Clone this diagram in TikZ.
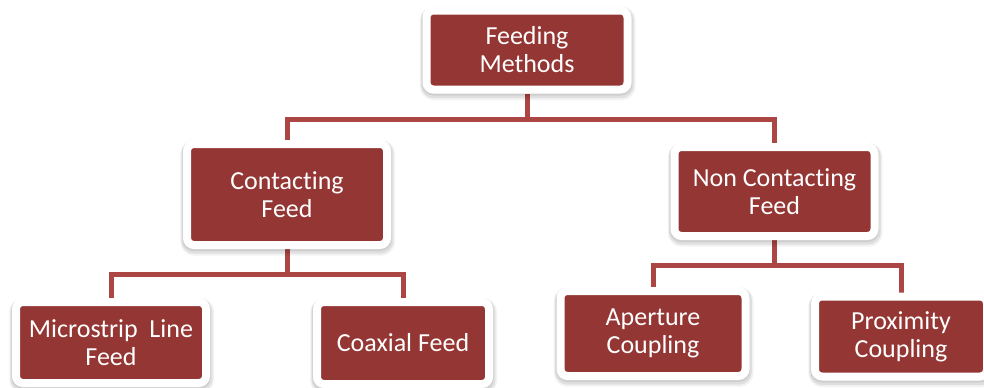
\documentclass[tikz,border=0pt]{standalone}
\usepackage{fontspec}
\setmainfont{Carlito}[Ligatures=NoCommon]
\usetikzlibrary{shadows,backgrounds}
\definecolor{boxred}{RGB}{148,54,52}
\definecolor{linkred}{RGB}{172,70,68}
\begin{document}
\begin{tikzpicture}[x=0.75pt,y=-0.75pt,
  box/.style={rectangle,rounded corners=5.25pt,fill=boxred,draw=white,line width=6pt,
    text=white,align=center,font=\fontsize{19.5}{21}\selectfont,
    drop shadow={shadow xshift=0.5pt,shadow yshift=-2.5pt,draw=black,line width=11pt,opacity=0.05},
    drop shadow={shadow xshift=0.3pt,shadow yshift=-2pt,draw=black,line width=9pt,opacity=0.08},
    drop shadow={shadow xshift=0pt,shadow yshift=-1pt,draw=black,line width=7pt,opacity=0.08}},
  link/.style={draw=linkred,line width=3.75pt}]
\useasboundingbox (0,0) rectangle (984,387);
\node[box,minimum width=150.75pt,minimum height=59.25pt] (feeding) at (527,50) {Feeding\\Methods};
\node[box,minimum width=150pt,minimum height=75.75pt] (contact) at (287,194.5) {Contacting\\Feed};
\node[box,minimum width=150pt,minimum height=66.75pt] (noncontact) at (774.5,191.5) {Non Contacting\\Feed};
\node[box,minimum width=142.5pt,minimum height=60.75pt] (microstrip) at (111,342.5) {Microstrip\ \ Line\\Feed};
\node[box,minimum width=129pt,minimum height=61.5pt] (coax) at (403,343) {Coaxial Feed};
\node[box,minimum width=138.75pt,minimum height=63.75pt] (aperture) at (653,333.5) {Aperture\\Coupling};
\node[box,minimum width=129pt,minimum height=60pt] (proximity) at (901,336.5) {Proximity\\Coupling};
\coordinate (topbar) at (0,119);
\coordinate (leftbar) at (0,274);
\coordinate (rightbar) at (0,265);
\begin{scope}[on background layer]
\draw[link] (feeding) -- (feeding |- topbar) -| (contact);
\draw[link] (feeding |- topbar) -| (noncontact);
\draw[link] (contact) -- (contact |- leftbar) -| (microstrip);
\draw[link] (contact |- leftbar) -| (coax);
\draw[link] (noncontact) -- (noncontact |- rightbar) -| (aperture);
\draw[link] (noncontact |- rightbar) -| (proximity);
\end{scope}
\end{tikzpicture}
\end{document}
